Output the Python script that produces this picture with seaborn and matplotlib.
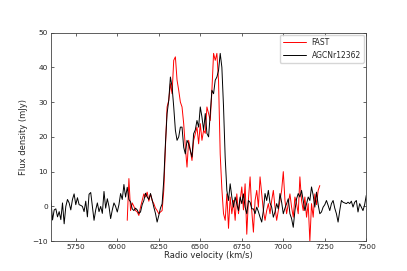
import numpy as np
import pandas as pd
import seaborn as sns
import matplotlib
matplotlib.use("Agg")
import matplotlib.pyplot as plt

# ---------------------------------------------------------
# Spectra (10 km/s channels)
# ---------------------------------------------------------
agc_start, agc_stop = 5600, 7500
agc_flux = [
    1.8, -3.9, -1.0, -0.7, -3.0, -1.5, -3.8, 1.0, -5.0, 0.0,
    2.0, 1.0, -1.0, 2.0, 3.6, 0.5, 2.5, 0.5, 0.3, 0.0,
    -1.5, 1.5, -3.0, 3.5, 4.0, 0.0, -4.0, -1.0, 1.0, -1.5,
    0.0, -2.0, 4.3, -0.5, 2.2, 0.0, -3.5, -1.0, 1.0, 0.0,
    -1.6, 0.5, 3.7, 2.0, 6.3, 2.7, 5.5, 2.0, 1.3, -0.7,
    -1.2, -0.5, -1.0, -2.0, -1.6, 0.5, 1.7, 3.8, 2.7, 2.0,
    3.7, 1.9, -0.2, -2.0, -4.5, -2.6, -0.5, 0.7, 7.5, 18.0,
    26.7, 30.5, 37.2, 34.4, 28.6, 21.9, 19.0, 20.0, 22.8, 22.8,
    17.0, 15.1, 19.0, 18.0, 16.1, 14.2, 20.9, 22.0, 24.7, 22.8,
    28.6, 25.7, 21.9, 26.7, 21.0, 20.0, 26.7, 33.4, 32.4, 36.3,
    37.2, 39.1, 44.0, 40.0, 28.6, 14.0, 4.6, 1.7, 6.5, 2.7,
    -0.2, 2.7, 0.8, -1.2, 2.7, 0.8, 3.6, -0.2, -2.1, 1.7,
    1.2, -0.7, -0.7, -2.1, -0.2, -1.5, -3.1, -4.5, -1.2, 3.7,
    1.7, 4.6, 1.0, -0.2, -3.1, -1.6, 0.8, -0.7, 3.7, 1.2,
    -2.1, -0.5, 0.8, 2.2, -2.1, -3.5, -6.0, -1.2, 2.2, 3.7,
    2.7, 4.6, 1.7, -1.2, 0.8, 2.7, 1.7, 5.6, 3.2, -0.2,
    4.1, 0.5, -2.1, -1.6, -0.2, 0.5, 1.7, 0.3, -1.2, 0.8,
    1.7, -0.5, -2.1, -4.5, -1.2, 1.7, 1.2, 1.0, 0.8, 1.2,
    0.8, 1.5, -0.2, 1.2, 1.7, -1.6, 0.8, -0.2, -1.2, 0.5,
    3.2,
]

fast_start, fast_stop = 6060, 7220
fast_flux = [
    -4.0, 8.0, -1.2, 1.0, 0.0, -1.2, -1.6, -2.6, -0.2, 1.7,
    3.6, 2.7, 4.1, 1.5, 3.6, 1.7, 0.8, -0.5, -1.2, -2.1,
    -1.6, -1.2, 4.6, 17.0, 28.6, 30.5, 35.3, 32.4, 42.0, 43.0,
    36.3, 33.4, 30.0, 28.6, 23.8, 17.0, 11.3, 19.0, 16.1, 13.2,
    19.0, 20.9, 22.8, 18.0, 23.8, 19.0, 21.9, 21.0, 28.6, 26.7,
    24.7, 33.4, 44.0, 42.0, 44.0, 36.0, 15.0, 5.0, -2.1, -4.0,
    3.6, -6.3, 2.7, -2.1, 1.7, -4.0, 3.6, -2.1, 1.7, 5.6,
    -1.0, 6.5, -8.0, 2.0, 8.5, -1.2, -7.4, 1.7, 4.6, -0.2,
    8.5, 3.6, -1.2, -4.0, -1.2, 0.8, -2.1, 1.7, 4.6, -0.2,
    -4.0, -1.2, 1.7, 4.6, 10.0, 1.7, -2.1, 0.8, 3.6, -0.2,
    -3.1, 2.7, 0.8, -2.1, 8.5, 1.7, -1.2, 2.7, -3.1, 0.8,
    -10.0, 0.8, -3.1, 3.6, 0.5, 4.6, 6.0,
]

agc = pd.DataFrame({"velocity": np.arange(agc_start, agc_stop + 1, 10), "flux": agc_flux})
fast = pd.DataFrame({"velocity": np.arange(fast_start, fast_stop + 1, 10), "flux": fast_flux})

# ---------------------------------------------------------
# Plot
# ---------------------------------------------------------
sns.set_style("ticks", {"xtick.direction": "in", "ytick.direction": "in"})
plt.rcParams["font.family"] = ["DejaVu Sans"]
plt.rcParams["xtick.top"] = True
plt.rcParams["ytick.right"] = True

fig, ax = plt.subplots(figsize=(4.07, 2.71), dpi=100)
fig.subplots_adjust(left=0.125, right=0.9, bottom=0.11, top=0.88)

sns.lineplot(data=fast, x="velocity", y="flux", color="red", lw=0.7, label="FAST", ax=ax)
sns.lineplot(data=agc, x="velocity", y="flux", color="black", lw=0.7, label="AGCNr12362", ax=ax)

ax.set_xlim(5600, 7500)
ax.set_ylim(-10, 50)
ax.set_xticks([5750, 6000, 6250, 6500, 6750, 7000, 7250, 7500])
ax.set_yticks([-10, 0, 10, 20, 30, 40, 50])
ax.tick_params(labelsize=5.3, length=2.5, width=0.5, direction="in", top=True, right=True, pad=2)
for s in ax.spines.values():
    s.set_linewidth(0.6)
    s.set_color("#444444")

ax.set_xlabel("Radio velocity (km/s)", fontsize=6, labelpad=1)
ax.set_ylabel("Flux density (mJy)", fontsize=6, labelpad=3)

ax.legend(loc="upper right", fontsize=5.5, frameon=True, borderaxespad=0.3,
          handlelength=3.0, fancybox=True, edgecolor="#cccccc")

fig.savefig("out.png", dpi=100)
